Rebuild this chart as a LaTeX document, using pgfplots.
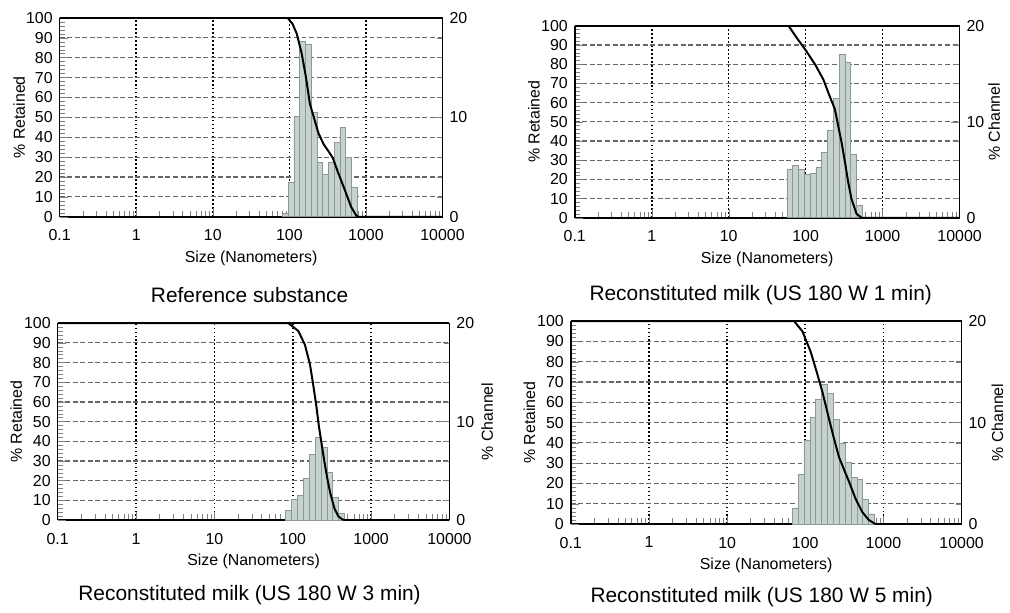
\documentclass[border=0pt]{standalone}
\usepackage{fontspec}
\setmainfont{Liberation Sans}
\usepackage{pgfplots}
\usepackage{pgfplotstable}
\pgfplotsset{compat=1.18}

\definecolor{barfill}{RGB}{198,210,206}
\definecolor{baredge}{RGB}{140,152,148}

% % channel per size channel: left edge, value; the last row is the right edge
\pgfplotstableread{
x y
80.9 0.3
96.2 3.5
114.4 10.1
136.0 17.6
161.8 17.3
192.4 10.5
228.8 5.5
272.1 4.3
323.6 5.5
384.8 7.5
457.6 9.0
544.2 6.0
647.2 3.0
769.6 0
}\chanA
\pgfplotstableread{
x y
57.2 5.1
68.02 5.5
80.9 5.0
96.2 4.5
114.4 4.65
136.0 5.25
161.8 6.8
192.4 9.1
228.8 12.5
272.1 17.05
323.6 16.25
384.8 6.65
457.6 1.3
544.2 0
}\chanB
\pgfplotstableread{
x y
80.9 1.0
96.2 2.1
114.4 2.5
136.0 4.2
161.8 6.7
192.4 8.4
228.8 7.4
272.1 4.9
323.6 2.3
384.8 0.7
457.6 0
}\chanC
\pgfplotstableread{
x y
68.02 1.6
80.9 4.9
96.2 8.3
114.4 10.5
136.0 12.3
161.8 13.8
192.4 12.9
228.8 10.3
272.1 8.0
323.6 6.1
384.8 4.6
457.6 4.4
544.2 2.4
647.2 1.0
769.6 0
}\chanD

\begin{document}
\begin{tikzpicture}
\path (0pt,0pt) rectangle (505pt,-305pt);

% ================= Reference substance
\begin{axis}[
  at={(30pt,-9pt)}, anchor=north west, scale only axis, width=192.5pt, height=100pt,
  xmode=log, xmin=0.1, xmax=10000, ymin=0, ymax=20,
  axis y line*=right, axis x line*=bottom, axis line style={line width=0.8pt},
  ytick={0,10,20}, yticklabels={0,10,20}, minor ytick={0,2,4,6,8,10,12,14,16,18,20},
  xtick={0.1,1,10,100,1000,10000}, xticklabels={0.1,1,10,100,1000,10000},
  minor xtick={0.2,0.3,0.4,0.5,0.6,0.7,0.8,0.9,2,3,4,5,6,7,8,9,20,30,40,50,60,70,80,90,200,300,400,500,600,700,800,900,2000,3000,4000,5000,6000,7000,8000,9000},
  xmajorgrids, yminorgrids,
  major grid style={black, line width=0.8pt, dash pattern=on 0.8pt off 1.2pt},
  minor grid style={black!60, line width=0.6pt, dash pattern=on 2.5pt off 1.3pt},
  xlabel={Size (Nanometers)},
  xticklabel style={yshift=-3pt}, xlabel style={yshift=2pt},
  tick label style={font=\fontsize{8}{9.6}\selectfont},
  label style={font=\fontsize{8}{9.6}\selectfont},
]
\addplot[const plot mark left, fill=barfill, draw=baredge, line width=0.3pt] table {\chanA} \closedcycle;
\addplot[ycomb, draw=baredge, line width=0.3pt] table {\chanA};
\end{axis}
\begin{axis}[
  at={(30pt,-9pt)}, anchor=north west, scale only axis, width=192.5pt, height=100pt,
  xmode=log, xmin=0.1, xmax=10000, ymin=0, ymax=100,
  axis x line*=top, axis y line*=left, xtick=\empty, axis line style={line width=0.8pt},
  ytick={0,10,20,30,40,50,60,70,80,90,100},
  yticklabels={0,10,20,30,40,50,60,70,80,90,100}, minor y tick num=4,
  ylabel={\% Retained},
  ylabel style={at={(axis description cs:-0.106,0.5)}, anchor=center},
  tick label style={font=\fontsize{8}{9.6}\selectfont},
  label style={font=\fontsize{8}{9.6}\selectfont},
]
\addplot[black, line width=1pt] coordinates {
(0.1,100) (95,100) (110,97) (125,92) (145,82) (165,70) (185,57) (205,51)
(240,42) (280,36.5) (330,32.5) (370,29.5) (430,22.5) (530,13.5) (640,5)
(750,0.5) (800,0) (10000,0)
};
\end{axis}
\node[font=\fontsize{10.5}{12.6}\selectfont] at (125.5pt,-148.5pt) {Reference substance};

% ================= US 180 W 1 min
\begin{axis}[
  at={(289pt,-13pt)}, anchor=north west, scale only axis, width=193.5pt, height=96.5pt,
  xmode=log, xmin=0.1, xmax=10000, ymin=0, ymax=20,
  axis y line*=right, axis x line*=bottom, axis line style={line width=0.8pt},
  ytick={0,10,20}, yticklabels={0,10,20}, minor ytick={0,2,4,6,8,10,12,14,16,18,20},
  xtick={0.1,1,10,100,1000,10000}, xticklabels={0.1,1,10,100,1000,10000},
  minor xtick={0.2,0.3,0.4,0.5,0.6,0.7,0.8,0.9,2,3,4,5,6,7,8,9,20,30,40,50,60,70,80,90,200,300,400,500,600,700,800,900,2000,3000,4000,5000,6000,7000,8000,9000},
  xmajorgrids, yminorgrids,
  major grid style={black, line width=0.8pt, dash pattern=on 0.8pt off 1.2pt},
  minor grid style={black!60, line width=0.6pt, dash pattern=on 2.5pt off 1.3pt},
  xlabel={Size (Nanometers)}, ylabel={\% Channel},
  ylabel style={at={(axis description cs:1.09,0.5)}, anchor=center},
  xticklabel style={yshift=-3pt}, xlabel style={yshift=2pt},
  tick label style={font=\fontsize{8}{9.6}\selectfont},
  label style={font=\fontsize{8}{9.6}\selectfont},
]
\addplot[const plot mark left, fill=barfill, draw=baredge, line width=0.3pt] table {\chanB} \closedcycle;
\addplot[ycomb, draw=baredge, line width=0.3pt] table {\chanB};
\end{axis}
\begin{axis}[
  at={(289pt,-13pt)}, anchor=north west, scale only axis, width=193.5pt, height=96.5pt,
  xmode=log, xmin=0.1, xmax=10000, ymin=0, ymax=100,
  axis x line*=top, axis y line*=left, xtick=\empty, axis line style={line width=0.8pt},
  ytick={0,10,20,30,40,50,60,70,80,90,100},
  yticklabels={0,10,20,30,40,50,60,70,80,90,100}, minor y tick num=4,
  ylabel={\% Retained},
  ylabel style={at={(axis description cs:-0.106,0.5)}, anchor=center},
  tick label style={font=\fontsize{8}{9.6}\selectfont},
  label style={font=\fontsize{8}{9.6}\selectfont},
]
\addplot[black, line width=1pt] coordinates {
(0.1,100) (60,100) (77,93.6) (99,87.6) (133,79.8) (170,72) (205,63.4)
(240,56.5) (265,47.8) (293,39.2) (324,29) (357,18.5) (394,9.8) (458,2.1)
(531,0) (10000,0)
};
\end{axis}
\node[font=\fontsize{10.5}{12.6}\selectfont] at (382.5pt,-148.5pt) {Reconstituted milk (US 180 W 1 min)};

% ================= US 180 W 3 min
\begin{axis}[
  at={(29pt,-162.5pt)}, anchor=north west, scale only axis, width=197pt, height=99pt,
  xmode=log, xmin=0.1, xmax=10000, ymin=0, ymax=20,
  axis y line*=right, axis x line*=bottom, axis line style={line width=0.8pt},
  ytick={0,10,20}, yticklabels={0,10,20}, minor ytick={0,2,4,6,8,10,12,14,16,18,20},
  xtick={0.1,1,10,100,1000,10000}, xticklabels={0.1,1,10,100,1000,10000},
  minor xtick={0.2,0.3,0.4,0.5,0.6,0.7,0.8,0.9,2,3,4,5,6,7,8,9,20,30,40,50,60,70,80,90,200,300,400,500,600,700,800,900,2000,3000,4000,5000,6000,7000,8000,9000},
  xmajorgrids, yminorgrids,
  major grid style={black, line width=0.8pt, dash pattern=on 0.8pt off 1.2pt},
  minor grid style={black!60, line width=0.6pt, dash pattern=on 2.5pt off 1.3pt},
  xlabel={Size (Nanometers)}, ylabel={\% Channel},
  ylabel style={at={(axis description cs:1.096,0.5)}, anchor=center},
  xticklabel style={yshift=-3pt}, xlabel style={yshift=2pt},
  tick label style={font=\fontsize{8}{9.6}\selectfont},
  label style={font=\fontsize{8}{9.6}\selectfont},
]
\addplot[const plot mark left, fill=barfill, draw=baredge, line width=0.3pt] table {\chanC} \closedcycle;
\addplot[ycomb, draw=baredge, line width=0.3pt] table {\chanC};
\end{axis}
\begin{axis}[
  at={(29pt,-162.5pt)}, anchor=north west, scale only axis, width=197pt, height=99pt,
  xmode=log, xmin=0.1, xmax=10000, ymin=0, ymax=100,
  axis x line*=top, axis y line*=left, xtick=\empty, axis line style={line width=0.8pt},
  ytick={0,10,20,30,40,50,60,70,80,90,100},
  yticklabels={0,10,20,30,40,50,60,70,80,90,100}, minor y tick num=4,
  ylabel={\% Retained},
  ylabel style={at={(axis description cs:-0.106,0.5)}, anchor=center},
  tick label style={font=\fontsize{8}{9.6}\selectfont},
  label style={font=\fontsize{8}{9.6}\selectfont},
]
\addplot[black, line width=1pt] coordinates {
(0.1,100) (88,100) (118,96) (143,89) (166,79) (182,69) (200,58) (215,48)
(235,38) (255,29) (275,21.5) (300,14) (340,6) (380,2) (430,0.3) (470,0)
(10000,0)
};
\end{axis}
\node[font=\fontsize{10.5}{12.6}\selectfont] at (125.5pt,-299pt) {Reconstituted milk (US 180 W 3 min)};

% ================= US 180 W 5 min
\begin{axis}[
  at={(287pt,-161.5pt)}, anchor=north west, scale only axis, width=196.5pt, height=102pt,
  xmode=log, xmin=0.1, xmax=10000, ymin=0, ymax=20,
  axis y line*=right, axis x line*=bottom, axis line style={line width=0.8pt},
  ytick={0,10,20}, yticklabels={0,10,20}, minor ytick={0,2,4,6,8,10,12,14,16,18,20},
  xtick={0.1,1,10,100,1000,10000}, xticklabels={0.1,1,10,100,1000,10000},
  minor xtick={0.2,0.3,0.4,0.5,0.6,0.7,0.8,0.9,2,3,4,5,6,7,8,9,20,30,40,50,60,70,80,90,200,300,400,500,600,700,800,900,2000,3000,4000,5000,6000,7000,8000,9000},
  xmajorgrids, yminorgrids,
  major grid style={black, line width=0.8pt, dash pattern=on 0.8pt off 1.2pt},
  minor grid style={black!60, line width=0.6pt, dash pattern=on 2.5pt off 1.3pt},
  xlabel={Size (Nanometers)}, ylabel={\% Channel},
  ylabel style={at={(axis description cs:1.092,0.5)}, anchor=center},
  xticklabel style={yshift=-3pt}, xlabel style={yshift=2pt},
  tick label style={font=\fontsize{8}{9.6}\selectfont},
  label style={font=\fontsize{8}{9.6}\selectfont},
]
\addplot[const plot mark left, fill=barfill, draw=baredge, line width=0.3pt] table {\chanD} \closedcycle;
\addplot[ycomb, draw=baredge, line width=0.3pt] table {\chanD};
\end{axis}
\begin{axis}[
  at={(287pt,-161.5pt)}, anchor=north west, scale only axis, width=196.5pt, height=102pt,
  xmode=log, xmin=0.1, xmax=10000, ymin=0, ymax=100,
  axis x line*=top, axis y line*=left, xtick=\empty, axis line style={line width=0.8pt},
  ytick={0,10,20,30,40,50,60,70,80,90,100},
  yticklabels={0,10,20,30,40,50,60,70,80,90,100}, minor y tick num=4,
  ylabel={\% Retained},
  ylabel style={at={(axis description cs:-0.106,0.5)}, anchor=center},
  tick label style={font=\fontsize{8}{9.6}\selectfont},
  label style={font=\fontsize{8}{9.6}\selectfont},
]
\addplot[black, line width=1pt] coordinates {
(0.1,100) (72,100) (92,95) (117,85) (140,75) (166,65) (195,54) (230,43)
(270,33) (320,26) (362,21) (440,12.5) (535,6) (650,2) (790,0) (10000,0)
};
\end{axis}
\node[font=\fontsize{10.5}{12.6}\selectfont] at (383pt,-300pt) {Reconstituted milk (US 180 W 5 min)};
\end{tikzpicture}
\end{document}
